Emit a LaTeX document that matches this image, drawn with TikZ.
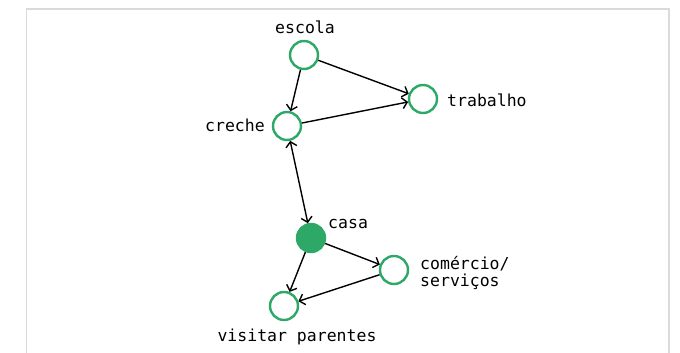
\documentclass[tikz,border=0pt]{standalone}
\usepackage{fontspec}
\setmonofont{DejaVu Sans Mono}
\usetikzlibrary{arrows.meta}
\definecolor{place}{HTML}{2EA866}
\definecolor{framegray}{HTML}{DADADA}
\tikzset{
  stop/.style={circle, draw=place, line width=2.4pt, minimum size=28pt, inner sep=0pt, fill=white},
  home/.style={stop, fill=place},
  lab/.style={font=\ttfamily\fontsize{16.5}{17.5}\selectfont, inner sep=0pt, text=black},
  trip/.style={line width=1.4pt, -{Straight Barb[length=5pt,width=11pt,line width=1.4pt]}},
  both/.style={trip, {Straight Barb[length=5pt,width=11pt,line width=1.4pt]}-{Straight Barb[length=5pt,width=11pt,line width=1.4pt]}}
}
\begin{document}
\begin{tikzpicture}[x=1pt,y=-1pt]
\useasboundingbox (0,0) rectangle (680,353);
\draw[framegray, line width=1.6pt] (26.5,370) -- (26.5,9) -- (669,9) -- (669,370);

\node[stop] (escola) at (304,55) {};
\node[stop] (trabalho) at (423,99) {};
\node[stop] (creche) at (287,126) {};
\node[home] (casa) at (311,238) {};
\node[stop] (comercio) at (394,270) {};
\node[stop] (visitar) at (284,306) {};

\node[lab, anchor=mid] (tEscola) at (305,31) {escola};
\node[lab, anchor=mid west] (tTrabalho) at (447,104) {trabalho};
\node[lab, anchor=mid east] (tCreche) at (265,129) {creche};
\node[lab, anchor=mid west] (tCasa) at (328,226) {casa};
\node[lab, anchor=north west, align=left] (tComercio) at (420,256) {comércio/\\serviços};
\node[lab, anchor=mid] (tVisitar) at (297,339) {visitar parentes};

\draw[trip] (escola) -- (creche);
\draw[trip] (escola) -- (trabalho);
\draw[trip] (creche) -- (trabalho);
\draw[both] (creche) -- (casa);
\draw[trip] (casa) -- (comercio);
\draw[trip] (casa) -- (visitar);
\draw[trip] (comercio) -- (visitar);
\end{tikzpicture}
\end{document}
